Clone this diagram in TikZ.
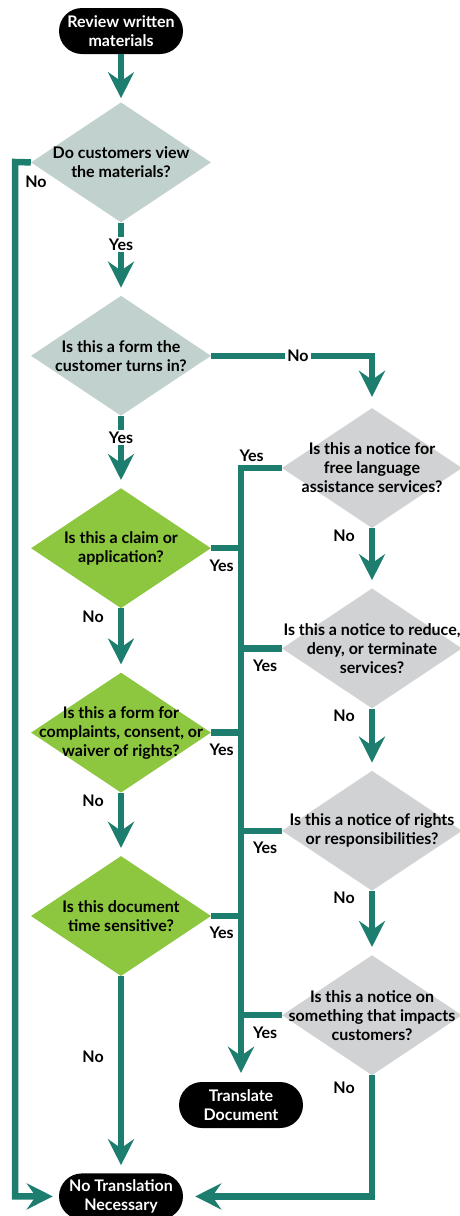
\documentclass[tikz,border=0pt]{standalone}
\usepackage{fontspec}
\setmainfont{Lato}
\usetikzlibrary{arrows.meta,positioning,shapes.geometric}
\definecolor{FlowTeal}{HTML}{1D7D6E}
\definecolor{AskSage}{HTML}{C1D1CD}
\definecolor{FormGreen}{HTML}{8DC63F}
\definecolor{NoticeGrey}{HTML}{D1D2D4}
\newcommand{\qfont}{\bfseries\fontsize{16}{19}\selectfont}

\begin{document}
\begin{tikzpicture}[x=1pt,y=1pt,
  ask/.style={diamond,minimum width=180pt,minimum height=120pt,inner sep=0pt,label={[qtxt]center:#1}},
  qtxt/.style={align=center,font=\qfont,text=black},
  terminal/.style={fill=black,text=white,rounded corners=23pt,minimum width=124pt,minimum height=46pt,align=center,font=\qfont,inner sep=0pt},
  flow/.style={-{Stealth[length=26pt,width=26pt,inset=9pt]},line width=6.5pt,FlowTeal,shorten >=8pt},
  link/.style={line width=6.5pt,FlowTeal},
  lbl/.style={font=\qfont,text=black,inner sep=2pt},
  cut/.style={lbl,fill=white},
]
\useasboundingbox (0,0) rectangle (459,-1216);
% left column
\node[terminal] (start) at (121,-31) {Review written\\materials};
\node[ask={Do customers view\\the materials?},fill=AskSage,below=48pt of start] (q1) {};
\node[ask={Is this a form the\\customer turns in?},fill=AskSage,below=73pt of q1] (q2) {};
\node[ask={Is this a claim or\\application?},fill=FormGreen,below=72pt of q2] (g1) {};
\node[ask={Is this a form for\\complaints, consent, or\\waiver of rights?},fill=FormGreen,below=64pt of g1] (g2) {};
\node[ask={Is this document\\time sensitive?},fill=FormGreen,below=63pt of g2] (g3) {};
\node[terminal,below=197pt of g3] (none) {No Translation\\Necessary};
% right column
\node[ask={Is this a notice for\\free language\\assistance services?},fill=NoticeGrey] (r1) at (372,-468) {};
\node[ask={Is this a notice to reduce,\\deny, or terminate\\services?},fill=NoticeGrey,below=60pt of r1] (r2) {};
\node[ask={Is this a notice of rights\\or responsibilities?},fill=NoticeGrey,below=62pt of r2] (r3) {};
\node[ask={Is this a notice on\\something that impacts\\customers?},fill=NoticeGrey,below=64pt of r3] (r4) {};
\node[terminal] (trans) at (241,-1105) {Translate\\Document};
\coordinate (rail) at (15,-162);

\draw[flow,shorten >=4pt] (start) -- (q1);
\draw[flow] (q1) -- node[cut,pos=0.3] {Yes} (q2);
\draw[flow,shorten >=6pt] (q1.west) -- (rail) node[lbl,anchor=north west,xshift=5pt,yshift=-9pt] {No} |- (none.west);
\draw[flow,shorten >=11pt] (q2.east) -| node[cut,pos=0.27] {No} (r1.north);
\draw[flow] (q2) -- node[cut,pos=0.3] {Yes} (g1);
\draw[flow] (g1) -- node[lbl,pos=0.13,left=12pt] {No} (g2);
\draw[flow] (g2) -- node[lbl,pos=0.13,left=12pt] {No} (g3);
\draw[flow] (g3) -- node[lbl,pos=0.41,left=12pt] {No} (none);

% yes trunk
\draw[flow,shorten >=9pt] (r1.west) -| node[lbl,pos=0.37,above=1pt] {Yes} (trans.north);
\draw[link] (g1.east) -- node[lbl,pos=0.35,below=6pt] {Yes} (g1.east -| trans.north);
\draw[link] (g2.east) -- node[lbl,pos=0.35,below=6pt] {Yes} (g2.east -| trans.north);
\draw[link] (g3.east) -- node[lbl,pos=0.35,below=6pt] {Yes} (g3.east -| trans.north);
\draw[link] (r2.west) -- node[lbl,pos=0.41,below=6pt] {Yes} (r2.west -| trans.north);
\draw[link] (r3.west) -- node[lbl,pos=0.41,below=6pt] {Yes} (r3.west -| trans.north);
\draw[link] (r4.west) -- node[lbl,pos=0.41,below=6pt] {Yes} (r4.west -| trans.north);

\draw[flow] (r1) -- node[lbl,pos=0.12,left=12pt] {No} (r2);
\draw[flow] (r2) -- node[lbl,pos=0.12,left=12pt] {No} (r3);
\draw[flow] (r3) -- node[lbl,pos=0.11,left=12pt] {No} (r4);
\draw[flow,shorten >=12pt] (r4.south) |- node[lbl,pos=0.05,left=12pt] {No} (none.east);
\end{tikzpicture}
\end{document}
